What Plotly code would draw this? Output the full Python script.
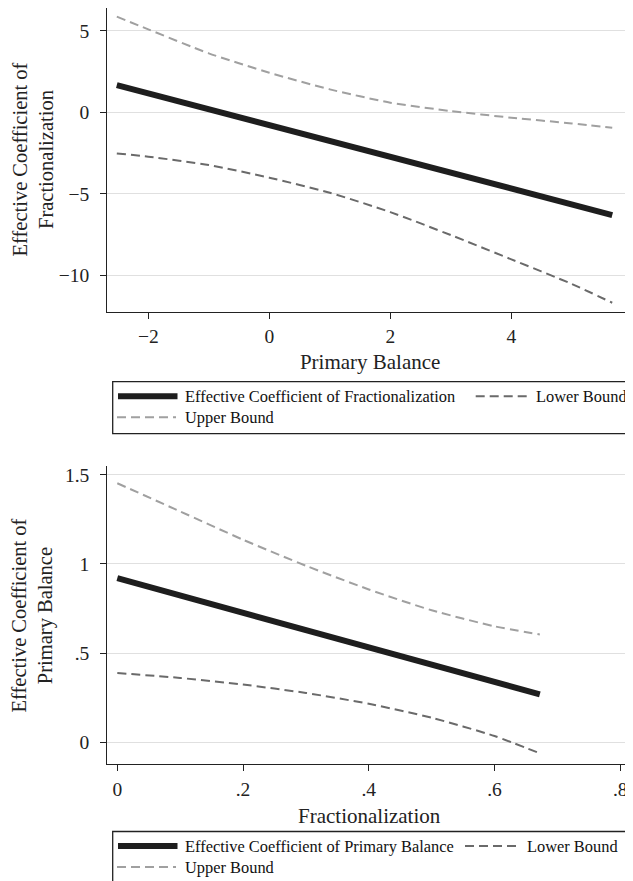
import plotly.graph_objects as go

# ---------------- data ----------------
top_x = [-2.52, -2, -1, 0, 1, 2, 3, 4, 5, 5.667]
top_eff = [1.67, 1.16, 0.19, -0.78, -1.76, -2.73, -3.70, -4.68, -5.65, -6.30]
top_lower = [-2.52, -2.72, -3.23, -4.01, -4.93, -6.12, -7.53, -9.02, -10.53, -11.68]
top_upper = [5.87, 5.09, 3.62, 2.43, 1.41, 0.59, 0.08, -0.33, -0.68, -0.94]

bot_x = [0, 0.1, 0.2, 0.3, 0.4, 0.5, 0.6, 0.672]
bot_eff = [0.92, 0.823, 0.726, 0.629, 0.532, 0.435, 0.338, 0.268]
bot_lower = [0.388, 0.36, 0.323, 0.276, 0.215, 0.137, 0.034, -0.063]
bot_upper = [1.453, 1.295, 1.136, 0.99, 0.857, 0.74, 0.65, 0.604]

top_xticks = [-2, 0, 2, 4, 6]
top_xticktext = ["\u22122", "0", "2", "4", "6"]
top_yticks = [-10, -5, 0, 5]
top_yticktext = ["\u221210", "\u22125", "0", "5"]
bot_xticks = [0, 0.2, 0.4, 0.6, 0.8]
bot_xticktext = ["0", ".2", ".4", ".6", ".8"]
bot_yticks = [0, 0.5, 1, 1.5]
bot_yticktext = ["0", ".5", "1", "1.5"]

top_names = ["Effective Coefficient of Fractionalization", "Lower Bound", "Upper Bound"]
bot_names = ["Effective Coefficient of Primary Balance", "Lower Bound", "Upper Bound"]

# ---------------- styling ----------------
# the page body has an 8px margin, so the figure starts at (8, 8) in the window
OFF = 8
W, H = 633 - OFF, 881 - OFF
FONT = "Liberation Serif, Times New Roman, serif"
C_EFF = "#1e1e1e"
C_LOW = "#6a6a6a"
C_UP = "#a0a0a0"
DASH = "9px,5px"


def px(x):
    return min(max((x - OFF) / W, 0), 1)


def py(y):
    return min(max(1 - (y - OFF) / H, 0), 1)


def ppx(x):
    return (x - OFF) / W


def ppy(y):
    return 1 - (y - OFF) / H


fig = go.Figure()

fig.add_trace(go.Scatter(x=top_x, y=top_eff, mode="lines", name=top_names[0],
                         line=dict(color=C_EFF, width=6), xaxis="x", yaxis="y", showlegend=False))
fig.add_trace(go.Scatter(x=top_x, y=top_lower, mode="lines", name=top_names[1],
                         line=dict(color=C_LOW, width=2, dash=DASH, shape="spline", smoothing=0.6),
                         xaxis="x", yaxis="y", showlegend=False))
fig.add_trace(go.Scatter(x=top_x, y=top_upper, mode="lines", name=top_names[2],
                         line=dict(color=C_UP, width=2, dash=DASH, shape="spline", smoothing=0.6),
                         xaxis="x", yaxis="y", showlegend=False))

fig.add_trace(go.Scatter(x=bot_x, y=bot_eff, mode="lines", name=bot_names[0],
                         line=dict(color=C_EFF, width=6), xaxis="x2", yaxis="y2", showlegend=False))
fig.add_trace(go.Scatter(x=bot_x, y=bot_lower, mode="lines", name=bot_names[1],
                         line=dict(color=C_LOW, width=2, dash=DASH, shape="spline", smoothing=0.6),
                         xaxis="x2", yaxis="y2", showlegend=False))
fig.add_trace(go.Scatter(x=bot_x, y=bot_upper, mode="lines", name=bot_names[2],
                         line=dict(color=C_UP, width=2, dash=DASH, shape="spline", smoothing=0.6),
                         xaxis="x2", yaxis="y2", showlegend=False))

axis_common = dict(showline=True, linecolor="#222", linewidth=1.3, ticks="outside",
                   ticklen=6, tickwidth=1.2, tickcolor="#222", zeroline=False,
                   tickfont=dict(family=FONT, size=19.5, color="#222"))

fig.update_layout(
    width=W, height=H,
    margin=dict(l=0, r=0, t=0, b=0, pad=0),
    paper_bgcolor="white", plot_bgcolor="white",
    font=dict(family=FONT, color="#222"),
    showlegend=False,
    xaxis=dict(domain=[px(107.3), 1], range=[-2.677, 6.01], anchor="y",
               tickvals=top_xticks, ticktext=top_xticktext, showgrid=False,
               ticklabelstandoff=1,
               title=dict(text="Primary Balance", font=dict(family=FONT, size=21, color="#222"), standoff=8),
               **axis_common),
    yaxis=dict(domain=[py(311.7), py(8)], range=[-12.23, 6.40], anchor="x",
               tickvals=top_yticks, ticktext=top_yticktext, showgrid=True,
               gridcolor="#e0e0e0", gridwidth=1, ticklabelstandoff=7,
               **axis_common),
    xaxis2=dict(domain=[px(107.3), px(631)], range=[-0.0159, 0.817], anchor="y2",
                tickvals=bot_xticks, ticktext=bot_xticktext, showgrid=False,
                ticklabelstandoff=1,
                title=dict(text="Fractionalization", font=dict(family=FONT, size=21, color="#222"), standoff=9),
                **axis_common),
    yaxis2=dict(domain=[py(764), py(466)], range=[-0.123, 1.55], anchor="x2",
                tickvals=bot_yticks, ticktext=bot_yticktext, showgrid=True,
                gridcolor="#e0e0e0", gridwidth=1, ticklabelstandoff=7,
                **axis_common),
)

annotations = []
shapes = []

# y-axis titles (two lines, rotated)
annotations.append(dict(text="Effective Coefficient of<br>Fractionalization", textangle=-90,
                        x=ppx(32.5), y=ppy(160), xref="paper", yref="paper",
                        xanchor="center", yanchor="middle", showarrow=False,
                        font=dict(family=FONT, size=20.5, color="#222")))
annotations.append(dict(text="Effective Coefficient of<br>Primary Balance", textangle=-90,
                        x=ppx(32.5), y=ppy(616), xref="paper", yref="paper",
                        xanchor="center", yanchor="middle", showarrow=False,
                        font=dict(family=FONT, size=20.5, color="#222")))


def legend_block(top, bottom, names, lower_sample_x0, lower_text_x):
    shapes.append(dict(type="rect", xref="paper", yref="paper",
                       x0=ppx(112.7), x1=ppx(720), y0=ppy(bottom), y1=ppy(top),
                       line=dict(color="#222", width=1.3), fillcolor="white", layer="above"))
    r1 = top + 14.5
    r2 = top + 35.5
    shapes.append(dict(type="line", xref="paper", yref="paper",
                       x0=ppx(118), x1=ppx(177.5), y0=ppy(r1), y1=ppy(r1),
                       line=dict(color=C_EFF, width=6), layer="above"))
    shapes.append(dict(type="line", xref="paper", yref="paper",
                       x0=ppx(lower_sample_x0), x1=ppx(lower_sample_x0 + 56), y0=ppy(r1), y1=ppy(r1),
                       line=dict(color=C_LOW, width=2, dash=DASH), layer="above"))
    shapes.append(dict(type="line", xref="paper", yref="paper",
                       x0=ppx(117), x1=ppx(176), y0=ppy(r2), y1=ppy(r2),
                       line=dict(color=C_UP, width=2, dash=DASH), layer="above"))
    for txt, x, y in [(names[0], 183, r1), (names[1], lower_text_x, r1), (names[2], 183, r2)]:
        annotations.append(dict(text=txt, x=ppx(x), y=ppy(y), xref="paper", yref="paper",
                                xanchor="left", yanchor="middle", showarrow=False,
                                font=dict(family=FONT, size=16.4, color="#111")))


legend_block(381.7, 433.7, top_names, 475.7, 534)
legend_block(831.5, 900, bot_names, 465, 525)

fig.update_layout(annotations=annotations, shapes=shapes)

fig.write_html("out.html")
